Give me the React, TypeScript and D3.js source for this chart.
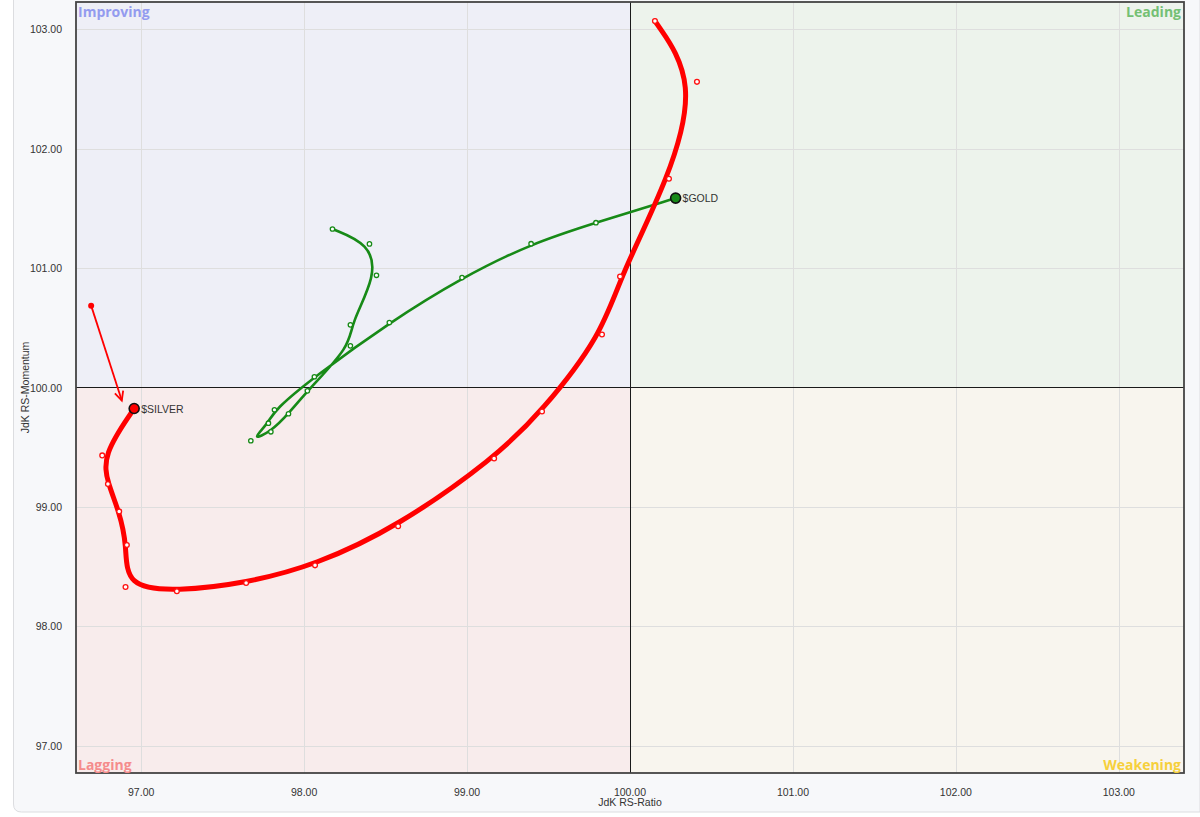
import React from "react";
import * as d3 from "d3";

const W = 1200;
const H = 817;

const xTicks = [97, 98, 99, 100, 101, 102, 103];
const yTicks = [97, 98, 99, 100, 101, 102, 103];
const xDomain = [96.6, 103.4];
const yDomain = [96.77, 103.23];

// $SILVER trail (oldest -> newest), last point is the head
const silverRatio = [100.153, 100.411, 100.239, 99.939, 99.828, 99.46, 99.166, 98.577, 98.067, 97.644, 97.219, 96.904, 96.912, 96.865, 96.796, 96.761, 96.957];
const silverMomentum = [103.071, 102.561, 101.749, 100.929, 100.444, 99.799, 99.406, 98.837, 98.51, 98.362, 98.293, 98.329, 98.68, 98.962, 99.191, 99.431, 99.824];

// $GOLD trail (oldest -> newest), last point is the head
const goldRatio = [98.174, 98.401, 98.444, 98.284, 98.284, 98.02, 97.904, 97.796, 97.673, 97.781, 97.818, 98.063, 98.523, 98.969, 99.393, 99.791, 100.28];
const goldMomentum = [101.328, 101.203, 100.94, 100.525, 100.349, 99.972, 99.78, 99.629, 99.554, 99.701, 99.813, 100.09, 100.544, 100.921, 101.205, 101.381, 101.587];

// annotation arrow
const arrowFrom = [96.693, 100.686];
const arrowTo = [96.881, 99.891];

const quadrants = [
  { name: "Improving", x0: "min", y0: "max", fill: "#eeeff7", color: "#939bef" },
  { name: "Leading", x0: "max", y0: "max", fill: "#edf3ec", color: "#74c074" },
  { name: "Lagging", x0: "min", y0: "min", fill: "#f8ecec", color: "#f58c8c" },
  { name: "Weakening", x0: "max", y0: "min", fill: "#f8f5ee", color: "#f6d03c" },
];

const snap = (v: number) => Math.round(v) + 0.5;

export default function App() {
  const left = 76, right = 1184, top = 2, bottom = 773;
  const x = d3.scaleLinear().domain(xDomain).range([left, right]);
  const y = d3.scaleLinear().domain(yDomain).range([bottom, top]);
  const cx = snap(x(100) - 0.5), cy = snap(y(100) - 0.5);

  const line = d3
    .line<[number, number]>()
    .x((d) => x(d[0]))
    .y((d) => y(d[1]))
    .curve(d3.curveBasis);

  const silver: [number, number][] = silverRatio.map((v, i) => [v, silverMomentum[i]]);
  const gold: [number, number][] = goldRatio.map((v, i) => [v, goldMomentum[i]]);

  const font = "'Liberation Sans', Arial, sans-serif";
  const qFont = "'Open Sans', 'DejaVu Sans', sans-serif";

  const quadRect = (q: any) => {
    const qx = q.x0 === "min" ? left : cx;
    const qw = q.x0 === "min" ? cx - left : right - cx;
    const qy = q.y0 === "max" ? top : cy;
    const qh = q.y0 === "max" ? cy - top : bottom - cy;
    return { qx, qy, qw, qh };
  };

  const ax1 = x(arrowFrom[0]), ay1 = y(arrowFrom[1]);
  const ax2 = x(arrowTo[0]), ay2 = y(arrowTo[1]);
  const ang = Math.atan2(ay2 - ay1, ax2 - ax1);
  const hl = 10, ha = 0.45;

  const sHead = silver[silver.length - 1];
  const gHead = gold[gold.length - 1];

  return (
    <svg width={W} height={H} style={{ position: "absolute", left: 0, top: 0, background: "#fff" }}>
      <path
        d={`M13.5,-5 L13.5,${812 - 8} Q13.5,812 21.5,812 L1200,812 L1200,-5 Z`}
        fill="#f7f8fa"
        stroke="#dcdde0"
        strokeWidth={1}
      />
      {quadrants.map((q) => {
        const r = quadRect(q);
        return <rect key={q.name} x={r.qx} y={r.qy} width={r.qw} height={r.qh} fill={q.fill} />;
      })}
      {xTicks.filter((t) => t !== 100).map((t) => (
        <line key={"gx" + t} x1={snap(x(t))} x2={snap(x(t))} y1={top} y2={bottom} stroke="#dedede" strokeWidth={1} />
      ))}
      {yTicks.filter((t) => t !== 100).map((t) => (
        <line key={"gy" + t} x1={left} x2={right} y1={snap(y(t))} y2={snap(y(t))} stroke="#dedede" strokeWidth={1} />
      ))}
      <line x1={cx} x2={cx} y1={top} y2={bottom} stroke="#1a1a1a" strokeWidth={1} />
      <line x1={left} x2={right} y1={cy} y2={cy} stroke="#1a1a1a" strokeWidth={1} />
      <rect x={left} y={top} width={right - left} height={bottom - top} fill="none" stroke="#444" strokeWidth={1.8} />

      {quadrants.map((q) => {
        const isLeft = q.x0 === "min";
        const isTop = q.y0 === "max";
        return (
          <text
            key={"ql" + q.name}
            x={isLeft ? left + 2 : right - 3}
            y={isTop ? top + 15 : bottom - 3}
            textAnchor={isLeft ? "start" : "end"}
            fill={q.color}
            fontFamily={qFont}
            fontWeight="bold"
            fontSize={14}
          >
            {q.name}
          </text>
        );
      })}

      {yTicks.map((t) => (
        <text key={"yt" + t} x={62} y={y(t) + 4} textAnchor="end" fontFamily={font} fontSize={10.5} fill="#333">
          {t.toFixed(2)}
        </text>
      ))}
      {xTicks.map((t) => (
        <text key={"xt" + t} x={x(t)} y={796} textAnchor="middle" fontFamily={font} fontSize={10.5} fill="#333">
          {t.toFixed(2)}
        </text>
      ))}
      <text x={x(100)} y={806} textAnchor="middle" fontFamily={font} fontSize={10.5} fill="#333">
        JdK RS-Ratio
      </text>
      <text
        transform={`translate(29,${y(100)}) rotate(-90)`}
        textAnchor="middle"
        fontFamily={font}
        fontSize={10.5}
        fill="#333"
      >
        JdK RS-Momentum
      </text>

      {/* GOLD trail */}
      <path d={line(gold) || ""} fill="none" stroke="#178a17" strokeWidth={2.6} strokeLinecap="round" />
      {gold.slice(0, -1).map((d, i) => (
        <circle key={"gp" + i} cx={x(d[0])} cy={y(d[1])} r={2.2} fill="#fff" stroke="#178a17" strokeWidth={1.3} />
      ))}

      {/* SILVER trail */}
      <path d={line(silver) || ""} fill="none" stroke="#ff0000" strokeWidth={5} strokeLinecap="round" />
      {silver.slice(0, -1).map((d, i) => (
        <circle key={"sp" + i} cx={x(d[0])} cy={y(d[1])} r={2.4} fill="#fff" stroke="#ff1010" strokeWidth={1.3} />
      ))}

      {/* arrow annotation */}
      <line x1={ax1} y1={ay1} x2={ax2} y2={ay2} stroke="#ff0000" strokeWidth={1.8} />
      <path
        d={`M${ax2 - hl * Math.cos(ang - ha)},${ay2 - hl * Math.sin(ang - ha)} L${ax2},${ay2} L${ax2 - hl * Math.cos(ang + ha)},${ay2 - hl * Math.sin(ang + ha)}`}
        fill="none"
        stroke="#ff0000"
        strokeWidth={1.8}
      />
      <circle cx={ax1} cy={ay1} r={3} fill="#ff0000" />

      {/* heads */}
      <circle cx={x(gHead[0])} cy={y(gHead[1])} r={5} fill="#178a17" stroke="#111" strokeWidth={1.6} />
      <text x={x(gHead[0]) + 7} y={y(gHead[1]) + 4} fontFamily={font} fontSize={10.5} fill="#333">
        $GOLD
      </text>
      <circle cx={x(sHead[0])} cy={y(sHead[1])} r={5} fill="#ff0000" stroke="#111" strokeWidth={1.6} />
      <text x={x(sHead[0]) + 7} y={y(sHead[1]) + 4} fontFamily={font} fontSize={10.5} fill="#333">
        $SILVER
      </text>
    </svg>
  );
}
